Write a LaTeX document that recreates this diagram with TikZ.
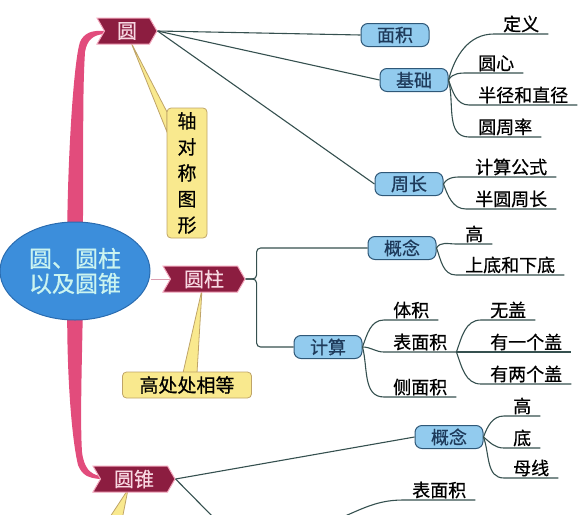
\documentclass[tikz,border=0pt]{standalone}
\usepackage{fontspec}
\setmainfont{Noto Sans CJK SC}[FakeBold = 0.6]
\usetikzlibrary{shapes.geometric, shapes.symbols, calc}

\definecolor{tagred}{HTML}{8C1D40}
\definecolor{tagglow}{HTML}{F2A6BC}
\definecolor{tagtext}{HTML}{F8D8E2}
\definecolor{stem}{HTML}{E24C7C}
\definecolor{topicblue}{HTML}{3C8EDB}
\definecolor{topicedge}{HTML}{2A6CB0}
\definecolor{topictext}{HTML}{CBF4F0}
\definecolor{subfill}{HTML}{92CBEE}
\definecolor{subedge}{HTML}{2F5878}
\definecolor{subtext}{HTML}{1E3A5A}
\definecolor{linecol}{HTML}{35504F}
\definecolor{notefill}{HTML}{F9E98E}
\definecolor{noteedge}{HTML}{BFA468}

\pgfdeclarelayer{background}
\pgfsetlayers{background, main}

\tikzset{
  topic/.style = {ellipse, fill = topicblue, draw = topicedge, line width = 1pt,
                  minimum width = 150pt, minimum height = 98pt, align = center,
                  text = topictext, font = \fontsize{23}{25}\selectfont},
  tag/.style = {signal, signal from = west, signal to = east, signal pointer angle = 120,
                fill = tagred, draw = tagglow, line width = 1pt, text = tagtext,
                minimum width = 82pt, minimum height = 26pt, inner xsep = 2pt,
                font = \fontsize{20}{22}\selectfont},
  sub/.style = {rectangle, rounded corners = 7pt, fill = subfill, draw = subedge,
                line width = 1pt, text = subtext, minimum width = 68pt,
                minimum height = 23pt, inner sep = 1pt, font = \fontsize{18}{20}\selectfont},
  leaf/.style = {anchor = south west, inner xsep = 9pt, inner ysep = 1.5pt,
                 font = \fontsize{18}{20}\selectfont},
  note/.style = {rectangle, rounded corners = 4pt, fill = notefill, draw = noteedge,
                 line width = 0.8pt, inner sep = 2pt, font = \fontsize{19}{26}\selectfont},
  branch/.style = {draw = linecol, line width = 1.1pt},
}

\begin{document}
\begin{tikzpicture}[x = 1pt, y = -1pt]
  \useasboundingbox (0, 0) rectangle (578, 514);
  \clip (0, 0) rectangle (578, 514);

  % centre and the three tags
  \node [topic] (zhuti) at (75, 271) {圆、圆柱\\以及圆锥};
  \node [tag, minimum width = 60pt] (yuan) at (127, 31) {圆};
  \node [tag] (yuanzhu) at (204, 279) {圆柱};
  \node [tag] (yuanzhui) at (134, 479) {圆锥};

  % callouts
  \node [note, align = center, minimum width = 40pt, minimum height = 130pt] (duichen) at (187, 173) {轴\\对\\称\\图\\形};
  \node [note, minimum width = 129pt, minimum height = 26pt] (xiangdeng) at (187, 385) {高处处相等};

  \begin{pgfonlayer}{background}
    % thick stems out of the centre
    \fill [stem] ($(zhuti.99) + (0, 8)$) .. controls (68, 150) and (74, 60) .. (80, 42)
          .. controls (84, 33) and (92, 30) .. (yuan.west)
          -- ($(yuan.west) + (0, 3)$) .. controls (93, 35) and (87, 40) .. (85, 52)
          .. controls (82, 100) and (84, 160) .. ($(zhuti.81) + (0, 8)$) -- cycle;
    \fill [stem] ($(zhuti.261) + (0, -8)$) .. controls (67, 380) and (72, 440) .. (78, 465)
          .. controls (82, 475) and (88, 478) .. (yuanzhui.west)
          -- ($(yuanzhui.west) + (0, -3)$) .. controls (90, 474) and (84, 468) .. (82, 452)
          .. controls (80, 420) and (82, 360) .. ($(zhuti.279) + (0, -8)$) -- cycle;
    \draw [tagglow!80!gray, line width = 1pt] (zhuti.east |- yuanzhu.west) -- (yuanzhu.west);
    % callout wedges
    \filldraw [fill = notefill, draw = noteedge, line width = 0.8pt]
          ($(yuan.south) + (4, -2)$) -- (167, 112) -- (167, 132) -- cycle;
    \filldraw [fill = notefill, draw = noteedge, line width = 0.8pt]
          ($(yuanzhu.south) + (-2, -3)$) -- (183, 373) -- (197, 373) -- cycle;
    \filldraw [fill = notefill, draw = noteedge, line width = 0.8pt]
          ($(yuanzhui.south) + (-6, -3)$) -- (108, 520) -- (122, 520) -- cycle;
  \end{pgfonlayer}

  % second level
  \node [sub] (mianji) at (395, 35) {面积};
  \node [sub] (jichu) at (414, 80) {基础};
  \node [sub] (zhouchang) at (409, 184) {周长};
  \node [sub] (gainian) at (402, 248) {概念};
  \node [sub] (jisuan) at (328, 347) {计算};
  \node [sub] (zgainian) at (449, 437) {概念};
  \coordinate (zjisuan) at (330, 522);
  \coordinate (zchu) at (216, 520);

  \draw [branch] (yuan.east) -- (mianji.west);
  \draw [branch] (yuan.east) -- (jichu.west);
  \draw [branch] (yuan.east) -- (zhouchang.west);
  \draw [branch, rounded corners = 4pt] (yuanzhu.east) -- ++(11, 0) |- (gainian.west);
  \draw [branch, rounded corners = 4pt] (yuanzhu.east) -- ++(11, 0) |- (jisuan.west);
  \draw [branch] (yuanzhui.east) -- (zgainian.west);
  \draw [branch] (yuanzhui.east) -- (zchu);

  % leaves
  \node [leaf] (dingyi) at (494, 34) {定义};
  \node [leaf] (yuanxin) at (469, 73) {圆心};
  \node [leaf] (banjing) at (469, 105) {半径和直径};
  \node [leaf] (zhoulv) at (469, 137) {圆周率};
  \node [leaf] (gongshi) at (466, 177) {计算公式};
  \node [leaf] (banyuan) at (466, 209) {半圆周长};
  \node [leaf] (gao) at (456, 244) {高};
  \node [leaf] (shangdi) at (456, 275) {上底和下底};
  \node [leaf] (tiji) at (384, 320) {体积};
  \node [leaf] (biaomian) at (384, 352) {表面积};
  \node [leaf] (cemian) at (384, 397) {侧面积};
  \node [leaf] (wugai) at (481, 320) {无盖};
  \node [leaf] (yigai) at (481, 352) {有一个盖};
  \node [leaf] (lianggai) at (481, 384) {有两个盖};
  \node [leaf] (zgao) at (504, 416) {高};
  \node [leaf] (zdi) at (504, 448) {底};
  \node [leaf] (muxian) at (504, 478) {母线};
  \node [leaf] (zbiaomian) at (403, 500) {表面积};

  \draw [branch] (jichu.east) to [out = 75, in = 180] (dingyi.south west) -- (dingyi.south east);
  \draw [branch] (jichu.east) to [out = 60, in = 180] (yuanxin.south west) -- (yuanxin.south east);
  \draw [branch] (jichu.east) to [out = -70, in = 180] (banjing.south west) -- (banjing.south east);
  \draw [branch] (jichu.east) to [out = -75, in = 180] (zhoulv.south west) -- (zhoulv.south east);
  \draw [branch] (zhouchang.east) to [out = 60, in = 180] (gongshi.south west) -- (gongshi.south east);
  \draw [branch] (zhouchang.east) to [out = -70, in = 180] (banyuan.south west) -- (banyuan.south east);
  \draw [branch] (gainian.east) to [out = 60, in = 180] (gao.south west) -- (gao.south east);
  \draw [branch] (gainian.east) to [out = -70, in = 180] (shangdi.south west) -- (shangdi.south east);
  \draw [branch] (jisuan.east) to [out = 70, in = 180] (tiji.south west) -- (tiji.south east);
  \draw [branch] (jisuan.east) to [out = 0, in = 180] (biaomian.south west) -- (biaomian.south east);
  \draw [branch] (jisuan.east) to [out = -75, in = 180] (cemian.south west) -- (cemian.south east);
  \draw [branch] (biaomian.south east) to [out = 70, in = 180] (wugai.south west) -- (wugai.south east);
  \draw [branch] (biaomian.south east) -- (yigai.south west) -- (yigai.south east);
  \draw [branch] (biaomian.south east) to [out = -70, in = 180] (lianggai.south west) -- (lianggai.south east);
  \draw [branch] (zgainian.east) to [out = 70, in = 180] (zgao.south west) -- (zgao.south east);
  \draw [branch] (zgainian.east) to [out = -40, in = 180] (zdi.south west) -- (zdi.south east);
  \draw [branch] (zgainian.east) to [out = -70, in = 180] (muxian.south west) -- (muxian.south east);
  \draw [branch] (zjisuan) to [out = 20, in = 180] (zbiaomian.south west) -- (zbiaomian.south east);
\end{tikzpicture}
\end{document}
